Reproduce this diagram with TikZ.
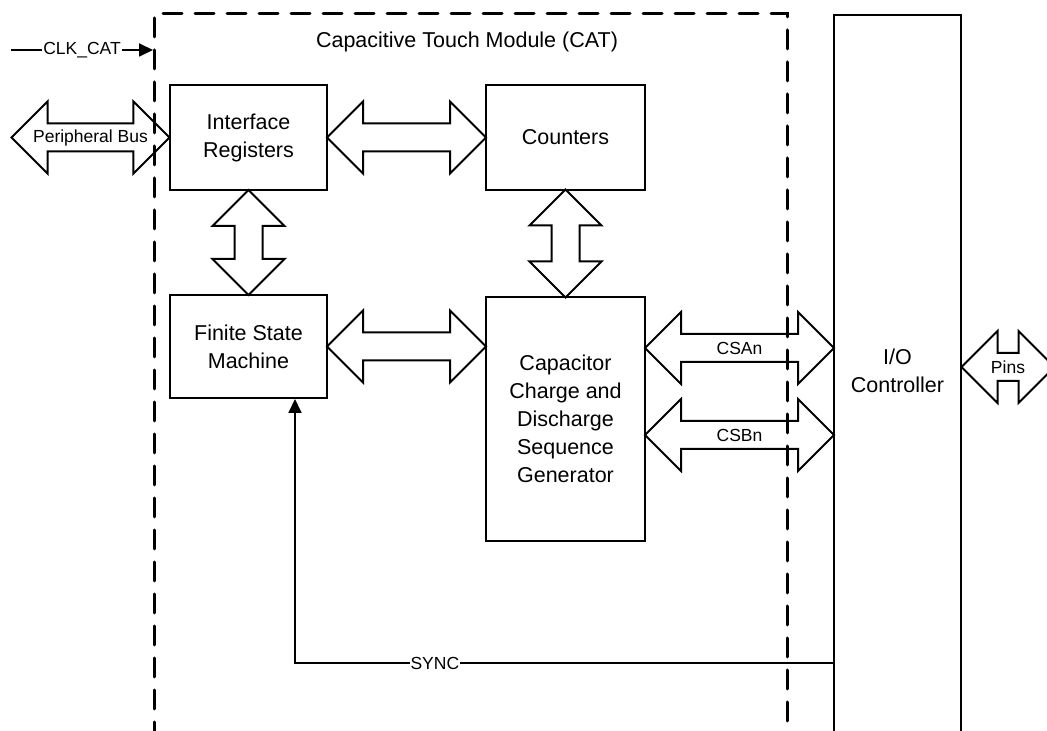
\documentclass[tikz,border=0pt]{standalone}
\usepackage{fontspec}
\setmainfont{Liberation Sans}
\usetikzlibrary{shapes.arrows,arrows.meta,calc}

\newcommand{\bigtxt}{\fontsize{21.5}{28}\selectfont}
\newcommand{\smalltxt}{\fontsize{17.5}{20}\selectfont}

\begin{document}
\begin{tikzpicture}[x=10pt,y=10pt,
    block/.style={draw, line width=2pt, align=center, font=\bigtxt, inner sep=0pt},
    bus/.style={draw, double arrow, line width=2pt, double arrow tip angle=90,
        double arrow head extend=22pt, text height=0pt, text depth=0pt,
        inner ysep=13pt, inner xsep=0pt, minimum width=1pt},
    sig/.style={line width=1.8pt, -{Triangle[length=14pt,width=13pt]}},
    frame/.style={line width=3pt, dash pattern=on 19pt off 13pt, line cap=round},
    lbl/.style={font=\smalltxt, inner sep=1pt}]
    \useasboundingbox (0,0) rectangle (104.7,73.1);
    \clip (0,0) rectangle (104.7,73.1);
    % module outline
    \draw[frame] (15.4,-1) -- (15.4,71.7) -- (78.7,71.7) -- (78.7,-1);
    \node[font=\bigtxt] (title) at (46.7,68.9) {Capacitive Touch Module (CAT)};
    % blocks
    \node[block, minimum width=157pt, minimum height=105pt] (ir) at (24.85,59.35) {Interface\\Registers};
    \node[block, minimum width=159pt, minimum height=105pt] (cnt) at (56.55,59.35) {Counters};
    \node[block, minimum width=157pt, minimum height=103pt] (fsm) at (24.85,38.45) {Finite State\\Machine};
    \node[block, minimum width=159pt, minimum height=244pt] (ccd) at (56.55,31.2) {Capacitor\\Charge and\\Discharge\\Sequence\\Generator};
    \node[draw, line width=2pt, minimum width=127pt, minimum height=733pt, anchor=north] (io) at (89.75,71.7) {};
    \node[font=\bigtxt, align=center] (iotxt) at (89.75,36.0) {I/O\\Controller};
    % clock input
    \coordinate (clkin) at (1.1,68.1);
    \coordinate (clkend) at (15.3,68.1);
    \draw[sig] (clkin) -- node[lbl, fill=white] (clk) {CLK\_CAT} (clkend);
    % buses
    \coordinate (busend) at (1.2,59.35);
    \node[bus, minimum height=158pt, label={[lbl]center:Peripheral Bus}] (pbus) at ($(busend)!0.5!(ir.west)$) {};
    \node[bus, minimum height=159pt] (ir2cnt) at ($(ir.east)!0.5!(cnt.west)$) {};
    \node[bus, minimum height=159pt] (fsm2ccd) at ($(fsm.east)!0.5!(fsm.east -| ccd.west)$) {};
    \node[bus, rotate=90, minimum height=105pt] (ir2fsm) at ($(ir.south)!0.5!(fsm.north)$) {};
    \node[bus, rotate=90, minimum height=108pt] (cnt2ccd) at ($(cnt.south)!0.5!(ccd.north)$) {};
    \coordinate (csa) at (64.5,38.3);
    \coordinate (csb) at (64.5,29.6);
    \node[bus, minimum height=189pt, label={[lbl]center:CSAn}] (csabus) at ($(ccd.east |- csa)!0.5!(io.west |- csa)$) {};
    \node[bus, minimum height=189pt, label={[lbl]center:CSBn}] (csbbus) at ($(ccd.east |- csb)!0.5!(io.west |- csb)$) {};
    \coordinate (pinend) at (105.4,36.4);
    \node[bus, minimum height=93pt, label={[lbl]center:Pins}] (pins) at ($(io.east |- pinend)!0.5!(pinend)$) {};
    % sync feedback
    \coordinate (syncturn) at (29.5,6.8);
    \draw[sig] (io.west |- syncturn) -- node[lbl, fill=white, pos=0.74] (sync) {SYNC} (syncturn) -- (syncturn |- fsm.south);
\end{tikzpicture}
\end{document}
